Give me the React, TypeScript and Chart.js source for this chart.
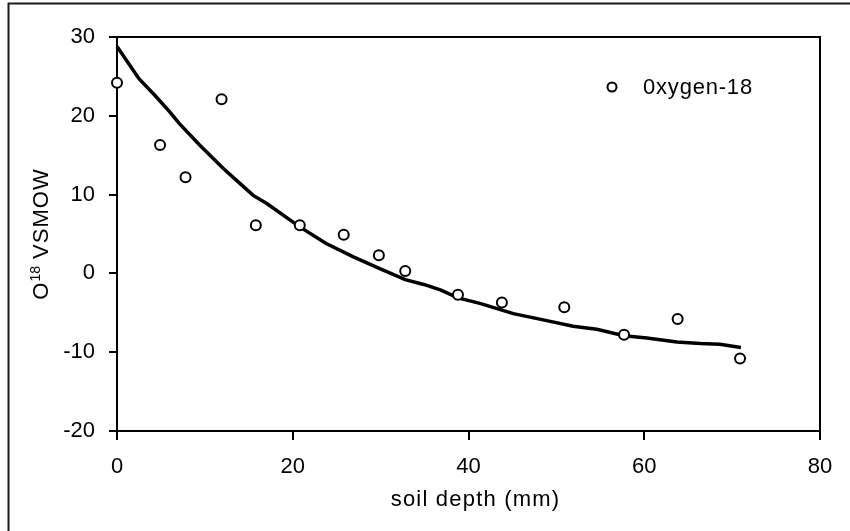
import React, { useEffect, useRef } from "react";
import { Chart, registerables } from "chart.js";

Chart.register(...registerables);

// Measured data (soil depth in mm)
const sampleDepth = [0, 4.9, 7.8, 11.9, 15.8, 20.8, 25.8, 29.8, 32.8, 38.8, 43.8, 50.9, 57.7, 63.8, 70.9];
const sampleO18 = [24.2, 16.3, 12.2, 22.1, 6.1, 6.1, 4.9, 2.3, 0.3, -2.7, -3.7, -4.3, -7.8, -5.8, -10.8];

// Model curve
const modelDepth = [0, 2.5, 4.3, 6.0, 7.1, 9.4, 12.1, 13.6, 15.5, 17.0, 20.8, 23.8, 26.9, 29.9, 32.8, 34.9, 36.8, 38.8, 41.3, 45.1, 48.5, 51.9, 54.6, 57.7, 60.3, 63.7, 66.4, 68.6, 71.0];
const modelO18 = [28.8, 24.7, 22.6, 20.5, 19.0, 16.3, 13.3, 11.8, 9.9, 8.9, 5.9, 3.8, 2.1, 0.6, -0.8, -1.4, -2.1, -3.1, -3.8, -5.1, -5.9, -6.7, -7.1, -7.9, -8.2, -8.7, -8.9, -9.0, -9.4];

const xTicks = [0, 20, 40, 60, 80];
const yTicks = [-20, -10, 0, 10, 20, 30];

const seriesLabel = "0xygen-18";
const xTitle = "soil depth (mm)";
const yTitleMain = "O";
const yTitleSup = "18";
const yTitleRest = " VSMOW";

const FONT = "'Liberation Sans', Arial, sans-serif";

function setSpacing(ctx: any, v: string) {
  if ("letterSpacing" in ctx) ctx.letterSpacing = v;
}

export default function App() {
  const ref = useRef<HTMLCanvasElement | null>(null);

  useEffect(() => {
    if (!ref.current) return;

    const decor = {
      id: "decor",
      beforeDraw(chart: any) {
        const ctx = chart.ctx;
        setSpacing(ctx, "0px");
        ctx.save();
        ctx.fillStyle = "#fff";
        ctx.fillRect(0, 0, chart.width, chart.height);
        ctx.strokeStyle = "#1a1a1a";
        ctx.lineWidth = 2;
        ctx.strokeRect(8.5, 3.5, 900, 600);
        ctx.restore();
      },
      beforeDatasetsDraw(chart: any) {
        const { ctx, chartArea: a } = chart;
        ctx.save();
        ctx.strokeStyle = "#000";
        ctx.lineWidth = 2;
        ctx.strokeRect(a.left, a.top, a.right - a.left, a.bottom - a.top);
        ctx.restore();
      },
      afterDraw(chart: any) {
        const { ctx, chartArea: a } = chart;
        ctx.save();
        ctx.fillStyle = "#000";
        // x title
        ctx.font = `22px ${FONT}`;
        setSpacing(ctx, "1.2px");
        ctx.textAlign = "center";
        ctx.textBaseline = "middle";
        ctx.fillText(xTitle, (a.left + a.right) / 2 + 7, 500);
        // y title with superscript
        ctx.save();
        ctx.translate(40, (a.top + a.bottom) / 2);
        ctx.rotate(-Math.PI / 2);
        ctx.textAlign = "left";
        ctx.textBaseline = "alphabetic";
        const big = `22px ${FONT}`;
        const small = `14px ${FONT}`;
        ctx.font = big;
        setSpacing(ctx, "1px");
        const w1 = ctx.measureText(yTitleMain).width;
        const w3 = ctx.measureText(yTitleRest).width;
        ctx.font = small;
        setSpacing(ctx, "0px");
        const w2 = ctx.measureText(yTitleSup).width;
        const total = w1 + w2 + w3;
        let x = -total / 2;
        const base = 8;
        ctx.font = big;
        setSpacing(ctx, "1px");
        ctx.fillText(yTitleMain, x, base);
        x += w1;
        ctx.font = small;
        setSpacing(ctx, "0px");
        ctx.fillText(yTitleSup, x, base - 8);
        x += w2;
        ctx.font = big;
        setSpacing(ctx, "1px");
        ctx.fillText(yTitleRest, x, base);
        ctx.restore();
        // legend
        const lx = a.right - 208;
        const ly = a.top + 50;
        ctx.beginPath();
        ctx.arc(lx, ly, 4.5, 0, Math.PI * 2);
        ctx.fillStyle = "#fff";
        ctx.fill();
        ctx.lineWidth = 2;
        ctx.strokeStyle = "#000";
        ctx.stroke();
        ctx.fillStyle = "#000";
        ctx.font = `22px ${FONT}`;
        setSpacing(ctx, "0.8px");
        ctx.textAlign = "left";
        ctx.textBaseline = "middle";
        ctx.fillText(seriesLabel, lx + 31, ly + 1);
        setSpacing(ctx, "0px");
        ctx.restore();
        setSpacing(ctx, "0px");
      },
    };

    const chart = new Chart(ref.current, {
      type: "scatter",
      data: {
        datasets: [
          {
            label: "model",
            type: "line",
            data: modelDepth.map((d, i) => ({ x: d, y: modelO18[i] })),
            borderColor: "#000",
            borderWidth: 3.5,
            pointRadius: 0,
            tension: 0,
            fill: false,
            clip: false as any,
            order: 2,
          },
          {
            label: seriesLabel,
            data: sampleDepth.map((d, i) => ({ x: d, y: sampleO18[i] })),
            pointRadius: 5,
            pointBorderWidth: 2,
            pointBorderColor: "#000",
            pointBackgroundColor: "#fff",
            showLine: false,
            clip: false as any,
            order: 1,
          },
        ],
      },
      options: {
        responsive: false,
        animation: false,
        devicePixelRatio: 1,
        layout: { padding: { top: 37, right: 30, left: 0, bottom: 0 } },
        plugins: {
          legend: { display: false },
          tooltip: { enabled: false },
          title: { display: false },
        },
        scales: {
          x: {
            type: "linear",
            min: 0,
            max: 80,
            afterBuildTicks: (s: any) => {
              s.ticks = xTicks.map((v) => ({ value: v }));
            },
            afterFit: (s: any) => {
              s.height = 100;
            },
            ticks: {
              color: "#000",
              font: { family: FONT, size: 22 },
              padding: 14,
              maxRotation: 0,
            },
            grid: {
              display: true,
              drawOnChartArea: false,
              drawTicks: true,
              tickLength: 9,
              color: "#000",
              lineWidth: 2,
            },
            border: { display: true, color: "#000", width: 2 },
          },
          y: {
            type: "linear",
            min: -20,
            max: 30,
            afterBuildTicks: (s: any) => {
              s.ticks = yTicks.map((v) => ({ value: v }));
            },
            afterFit: (s: any) => {
              s.width = 117;
            },
            ticks: {
              color: "#000",
              font: { family: FONT, size: 22 },
              padding: 14,
            },
            grid: {
              display: true,
              drawOnChartArea: false,
              drawTicks: true,
              tickLength: 8,
              color: "#000",
              lineWidth: 2,
            },
            border: { display: true, color: "#000", width: 2 },
          },
        },
      },
      plugins: [decor],
    });

    return () => chart.destroy();
  }, []);

  return (
    <div style={{ position: "fixed", left: 0, top: 0, width: 850, height: 531, background: "#fff" }}>
      <canvas ref={ref} width={850} height={531} style={{ display: "block", width: 850, height: 531 }} />
    </div>
  );
}
